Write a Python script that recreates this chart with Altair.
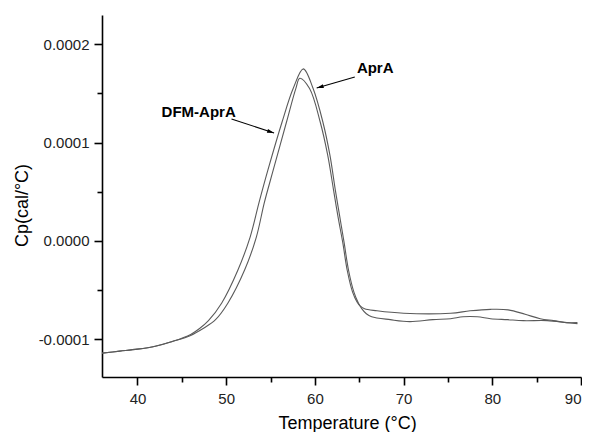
import altair as alt
import pandas as pd

# ---- curve data (Temperature in °C, Cp in cal/°C) ----
aprA_temp = [36.0, 38.0, 40.0, 42.0, 44.0, 46.0, 47.0, 48.0, 49.5, 51.3, 52.7, 53.7,
             54.7, 56.3, 57.55, 58.7, 59.8, 60.9, 61.7, 62.3, 62.8, 63.3, 63.8, 64.4,
             64.9, 65.3, 65.8, 66.4, 68.5, 70.7, 73.3, 75.3, 76.7, 78.3, 79.8, 81.7,
             83.5, 86.2, 88.4, 89.6]
aprA_cp = [-1.14e-4, -1.12e-4, -1.10e-4, -1.07e-4, -1.02e-4, -0.95e-4, -0.89e-4, -0.81e-4,
           -0.63e-4, -0.30e-4, 0.04e-4, 0.39e-4, 0.72e-4, 1.21e-4, 1.55e-4, 1.75e-4,
           1.55e-4, 1.21e-4, 0.87e-4, 0.52e-4, 0.25e-4, -0.02e-4, -0.30e-4, -0.52e-4,
           -0.63e-4, -0.69e-4, -0.74e-4, -0.77e-4, -0.80e-4, -0.82e-4, -0.80e-4, -0.79e-4,
           -0.77e-4, -0.77e-4, -0.79e-4, -0.80e-4, -0.81e-4, -0.81e-4, -0.83e-4, -0.84e-4]

dfm_temp = [36.0, 38.0, 40.0, 42.0, 44.0, 46.0, 47.4, 48.8, 50.2, 52.1, 53.4, 54.3,
            55.3, 56.8, 57.85, 58.3, 59.4, 60.6, 61.45, 62.1, 62.6, 63.15, 63.65, 64.25,
            64.75, 65.1, 65.6, 67.0, 70.0, 75.3, 77.5, 79.8, 81.8, 83.7, 85.4, 86.9,
            88.4, 89.6]
dfm_cp = [-1.14e-4, -1.12e-4, -1.10e-4, -1.07e-4, -1.02e-4, -0.96e-4, -0.89e-4, -0.80e-4,
          -0.63e-4, -0.29e-4, 0.04e-4, 0.39e-4, 0.72e-4, 1.21e-4, 1.55e-4, 1.655e-4,
          1.55e-4, 1.21e-4, 0.87e-4, 0.52e-4, 0.25e-4, -0.02e-4, -0.30e-4, -0.52e-4,
          -0.62e-4, -0.66e-4, -0.69e-4, -0.71e-4, -0.735e-4, -0.735e-4, -0.71e-4, -0.695e-4,
          -0.70e-4, -0.745e-4, -0.79e-4, -0.81e-4, -0.83e-4, -0.83e-4]

# ---- axes ----
x_domain = [36, 90]
y_domain = [-1.383e-4, 2.298e-4]
x_ticks = [40, 45, 50, 55, 60, 65, 70, 75, 80, 85, 90]
y_ticks = [-1.0e-4, -0.5e-4, 0.0, 0.5e-4, 1.0e-4, 1.5e-4, 2.0e-4]

# ---- annotations ----
label_text = ["DFM-AprA", "AprA"]
label_temp = [46.9, 66.8]
label_cp = [1.312e-4, 1.759e-4]
arrow_temp_start = [50.6, 64.5]
arrow_cp_start = [1.241e-4, 1.668e-4]
arrow_temp_end = [55.4, 60.2]
arrow_cp_end = [1.098e-4, 1.556e-4]
arrow_angle = [108, 254]

FONT = "Liberation Sans"

curves = pd.concat([
    pd.DataFrame({"T": aprA_temp, "Cp": aprA_cp, "series": "AprA"}),
    pd.DataFrame({"T": dfm_temp, "Cp": dfm_cp, "series": "DFM-AprA"}),
])
labels = pd.DataFrame({"text": label_text, "T": label_temp, "Cp": label_cp})
arrows = pd.DataFrame({"ts": arrow_temp_start, "cs": arrow_cp_start,
                       "te": arrow_temp_end, "ce": arrow_cp_end, "ang": arrow_angle})

y_major = "abs(datum.value*10000 - round(datum.value*10000)) < 0.01"

x_enc = alt.X(
    "T:Q",
    scale=alt.Scale(domain=x_domain, nice=False, zero=False),
    axis=alt.Axis(
        values=x_ticks,
        title="Temperature (°C)",
        labelExpr="datum.value % 10 == 0 ? format(datum.value, 'd') : ''",
        tickSize={"condition": {"test": "datum.value % 10 == 0", "value": 8}, "value": 5},
        labelFlush=True,
        labelOverlap=False,
        labelPadding=6,
        grid=False,
        titleX=245,
        titleY=51,
        titleAlign="center",
        titleBaseline="alphabetic",
        titleAnchor="start",
    ),
)
y_enc = alt.Y(
    "Cp:Q",
    scale=alt.Scale(domain=y_domain, nice=False, zero=False),
    axis=alt.Axis(
        values=y_ticks,
        title="Cp(cal/°C)",
        labelExpr=y_major + " ? replace(format(datum.value, '.4f'), '−', '-') : ''",
        tickSize={"condition": {"test": y_major, "value": 8}, "value": 5},
        labelOverlap=False,
        labelPadding=5,
        grid=False,
        titleX=-80,
        titleY=190,
        titleAngle=-90,
        titleAlign="center",
        titleBaseline="middle",
        titleAnchor="start",
    ),
)

lines = alt.Chart(curves).mark_line(
    interpolate="catmull-rom", color="#5a5a5a", strokeWidth=1.1
).encode(x=x_enc, y=y_enc, detail="series:N", order="T:Q")

texts = alt.Chart(labels).mark_text(
    font=FONT, fontSize=15, fontWeight="bold", color="black", align="center", baseline="middle"
).encode(x="T:Q", y="Cp:Q", text="text:N")

shafts = alt.Chart(arrows).mark_rule(color="black", strokeWidth=1.1).encode(
    x="ts:Q", y="cs:Q", x2="te:Q", y2="ce:Q"
)

heads = alt.Chart(arrows).mark_point(
    shape="M0,0L0.55,2L-0.55,2Z", filled=True, size=49, color="black", opacity=1
).encode(x="te:Q", y="ce:Q", angle=alt.Angle("ang:Q", scale=None))

chart = alt.layer(lines, shafts, heads, texts).properties(
    width=479,
    height=362,
    autosize=alt.AutoSizeParams(type="none"),
    padding={"left": 94, "top": 7, "right": 1, "bottom": 55},
    background="white",
).configure_view(stroke=None).configure_axis(
    domainColor="black",
    domainWidth=1.6,
    tickColor="black",
    tickWidth=1.6,
    labelFont=FONT,
    labelFontSize=15,
    labelColor="#222222",
    titleFont=FONT,
    titleFontSize=18,
    titleFontWeight="normal",
    titleColor="black",
)

chart.save("out.html", embed_options={"renderer": "svg", "actions": False})
